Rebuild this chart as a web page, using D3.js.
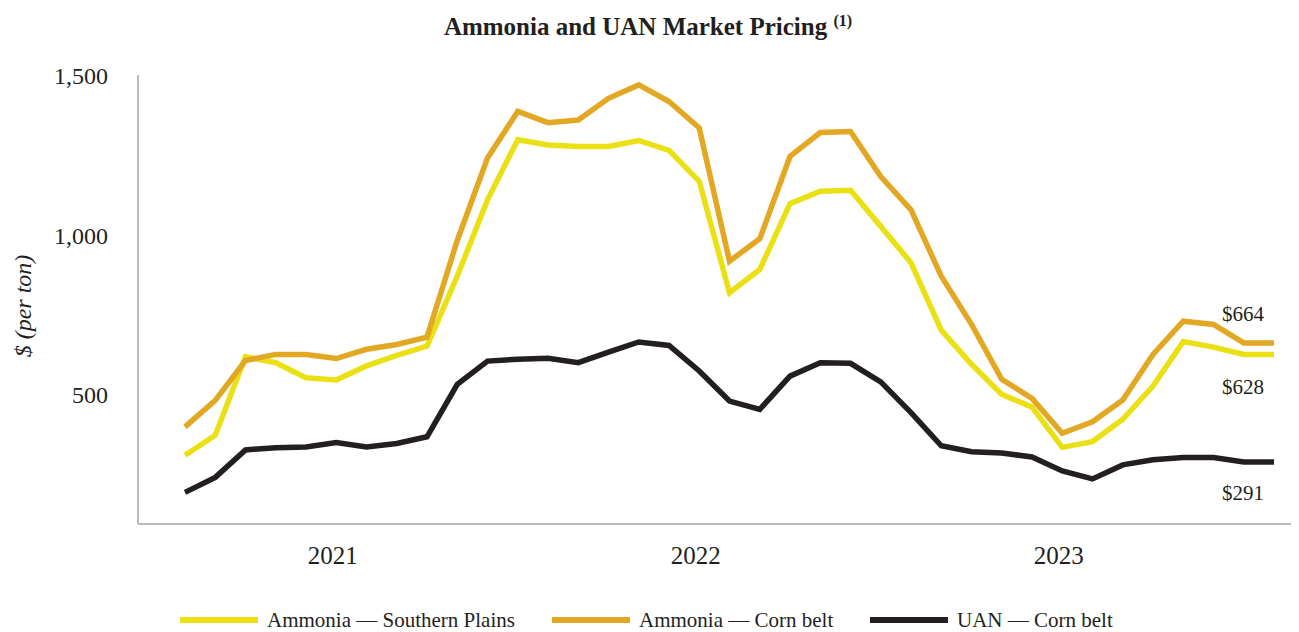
<!DOCTYPE html>
<html>
<head>
<meta charset="utf-8">
<script src="https://cdn.jsdelivr.net/npm/d3@7"></script>
<style>
  body { margin: 0; background: #fff; }
  text { font-family: "Liberation Serif", "Times New Roman", serif; fill: #231f20; }
  .axis path { stroke: #a6a6a6; stroke-width: 1.5; }
  .axis line { display: none; }
</style>
</head>
<body>
<div id="svganchor"></div>
<script>
let width = 1299, height = 632;

let margin = ({top: 76, right: 25, bottom: 108, left: 138});

// monthly observations, Jan 2021 .. Jan 2024
let months = [];
for (let y = 2021; y <= 2024; y++) {
    for (let m = 1; m <= 12; m++) {
        if (y === 2024 && m > 1) break;
        months.push(y + "-" + String(m).padStart(2, "0"));
    }
}

let ammoniaSouthernPlains = [312, 375, 621, 602, 555, 548, 592, 625, 654, 873, 1112, 1300,
    1284, 1279, 1279, 1298, 1267, 1170, 821, 894, 1100, 1139, 1142, 1029,
    915, 704, 597, 503, 463, 337, 355, 425, 529, 668, 651, 628, 628];

let ammoniaCornBelt = [401, 484, 609, 628, 628, 615, 644, 659, 682, 985, 1243, 1389,
    1354, 1362, 1430, 1472, 1420, 1337, 920, 990, 1248, 1323, 1326, 1185,
    1081, 873, 722, 550, 490, 381, 417, 485, 628, 732, 722, 664, 664];

let uanCornBelt = [196, 243, 329, 336, 338, 352, 338, 349, 370, 534, 607, 613,
    616, 602, 635, 667, 656, 576, 482, 456, 560, 602, 600, 542,
    446, 342, 323, 319, 307, 263, 238, 282, 298, 305, 305, 291, 291];

let yearTicks = ["2021-06", "2022-06", "2023-06"];
let yTicks = [500, 1000, 1500];

let series = [
    {name: "Ammonia \u2014 Southern Plains", values: ammoniaSouthernPlains, color: "#ebe014", label: "$628", dy: 40},
    {name: "Ammonia \u2014 Corn belt", values: ammoniaCornBelt, color: "#e3a823", label: "$664", dy: -22},
    {name: "UAN \u2014 Corn belt", values: uanCornBelt, color: "#231f20", label: "$291", dy: 38}
];

let xScale = d3.scalePoint()
    .domain(months)
    .range([185, 1274]);

let yScale = d3.scaleLinear()
    .domain([100, 1500])
    .range([height - margin.bottom - 1, margin.top]);

let svg = d3.select("#svganchor")
    .append("svg")
    .attr("width", width)
    .attr("height", height);

let title = svg.append("text")
    .attr("text-anchor", "middle")
    .attr("x", 648)
    .attr("y", 35)
    .style("font-weight", "bold")
    .style("font-size", "25px");
title.append("tspan").text("Ammonia and UAN Market Pricing ");
title.append("tspan")
    .attr("dy", -9)
    .style("font-size", "16px")
    .text("(1)");

let xAxis = d3.axisBottom(xScale)
    .tickValues(yearTicks)
    .tickFormat(function(d) { return d.slice(0, 4); })
    .tickSize(0)
    .tickPadding(22);

let gX = svg.append("g")
    .attr("class", "x axis")
    .attr("transform", "translate(0," + (height - margin.bottom) + ")")
    .call(xAxis);

gX.select(".domain").attr("d", "M" + margin.left + ",0H" + (width - margin.right + 17));
gX.selectAll("text")
    .attr("transform", "translate(-4,0)")
    .style("font-size", "25px")
    .style("font-family", "Liberation Serif");

let yAxis = d3.axisLeft(yScale)
    .tickValues(yTicks)
    .tickFormat(d3.format(","))
    .tickSize(0)
    .tickPadding(30);

let gY = svg.append("g")
    .attr("class", "y axis")
    .attr("transform", "translate(" + margin.left + ",0)")
    .call(yAxis);

gY.select(".domain").attr("d", "M0," + (margin.top - 1) + "V" + (height - margin.bottom));
gY.selectAll("text")
    .style("font-size", "24px")
    .style("font-family", "Liberation Serif");

svg.append("text")
    .attr("transform", "translate(31," + 306 + ") rotate(-90)")
    .attr("text-anchor", "middle")
    .style("font-style", "italic")
    .style("font-size", "24px")
    .text("$ (per ton)");

let line = d3.line()
    .x(function(d, i) { return xScale(months[i]); })
    .y(function(d) { return yScale(d); });

svg.selectAll(".series")
    .data(series)
    .enter()
    .append("path")
    .attr("class", "series")
    .attr("fill", "none")
    .attr("stroke", function(d) { return d.color; })
    .attr("stroke-width", 5.5)
    .attr("stroke-linejoin", "miter")
    .attr("d", function(d) { return line(d.values); });

// end-of-series value labels
svg.selectAll(".endLabel")
    .data(series)
    .enter()
    .append("text")
    .attr("class", "endLabel")
    .attr("x", 1222)
    .attr("y", function(d) { return yScale(d.values[d.values.length - 1]) + d.dy; })
    .style("font-size", "21px")
    .text(function(d) { return d.label; });

// legend
let legendX = [180, 552, 870];
let legend = svg.selectAll(".legend")
    .data(series)
    .enter()
    .append("g")
    .attr("class", "legend")
    .attr("transform", function(d, i) { return "translate(" + legendX[i] + ",620)"; });

legend.append("line")
    .attr("x1", 0)
    .attr("x2", 78)
    .attr("stroke", function(d) { return d.color; })
    .attr("stroke-width", 6);

legend.append("text")
    .attr("x", 87)
    .attr("y", 7)
    .style("font-size", "21px")
    .text(function(d) { return d.name; });
</script>
</body>
</html>
